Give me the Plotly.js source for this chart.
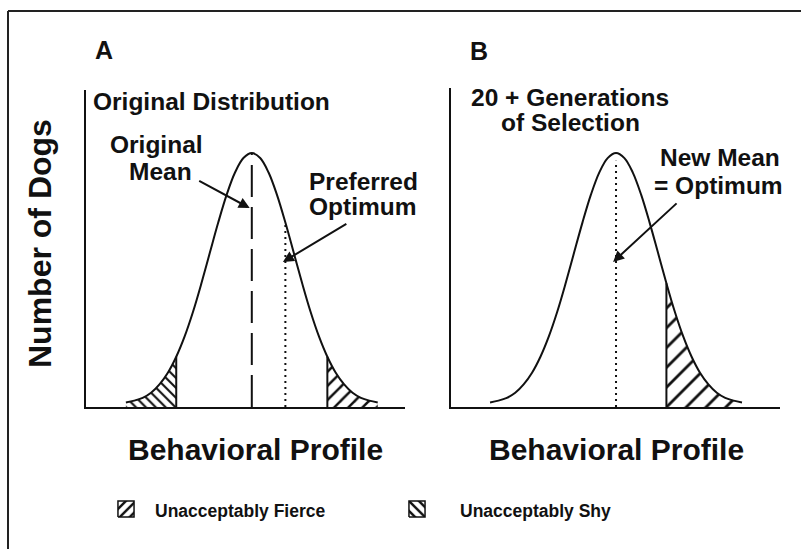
<!DOCTYPE html>
<html>
<head>
<meta charset="utf-8">
<script src="https://cdn.plot.ly/plotly-3.0.1.min.js"></script>
<style>
  html, body { margin: 0; padding: 0; background: #fff; }
  #chart { width: 801px; height: 549px; }
</style>
</head>
<body>
<div id="chart"></div>
<script>
// ---- data ----
// behavioral profile, in standard-deviation units from the original mean
const profile = [-3.0, -2.8, -2.6, -2.4, -2.2, -2.0, -1.8, -1.6, -1.4, -1.2, -1.0, -0.8, -0.6, -0.4, -0.2, 0.0,
                 0.2, 0.4, 0.6, 0.8, 1.0, 1.2, 1.4, 1.6, 1.8, 2.0, 2.2, 2.4, 2.6, 2.8, 3.0];
// number of dogs (relative, peak = 100)
const dogsA = [1.8, 2.5, 3.6, 5.6, 8.9, 13.5, 19.8, 27.8, 37.5, 48.7, 60.7, 72.6, 83.5, 92.3, 98.0, 100,
               98.0, 92.3, 83.5, 72.6, 60.7, 48.7, 37.5, 27.8, 19.8, 13.5, 8.9, 5.6, 3.6, 2.5, 1.8];
const dogsB = [1.8, 2.5, 3.6, 5.6, 8.9, 13.5, 19.8, 27.8, 37.5, 48.7, 60.7, 72.6, 83.5, 92.3, 98.0, 100,
               98.0, 92.3, 83.5, 72.6, 60.7, 48.7, 37.5, 27.8, 19.8, 13.5, 8.9, 5.6, 3.6, 2.5, 1.8];

const shyCutA = -1.8;      // left tail of panel A: unacceptably shy
const fierceCutA = 1.8;    // right tail of panel A: unacceptably fierce
const fierceCutB = 1.2;    // right tail of panel B: unacceptably fierce
const meanA = 0.0;
const optimumA = 0.8;
const optimumTopA = 72;
const meanB = 0.0;
const meanTopB = 97;

const legendLabels = ['Unacceptably Fierce', 'Unacceptably Shy'];
const swatchX = [0, 1, 1, 0, 0];
const swatchY = [0, 0, 1, 1, 0];

// ---- helpers ----
function valueAt(xs, ys, x) {
  const i = xs.findIndex(v => Math.abs(v - x) < 1e-9);
  return ys[i];
}
function tail(xs, ys, cut, side) {
  const ox = [], oy = [];
  xs.forEach((v, i) => {
    if ((side === 'left' && v <= cut + 1e-9) || (side === 'right' && v >= cut - 1e-9)) {
      ox.push(v); oy.push(ys[i]);
    }
  });
  return {x: ox, y: oy};
}

const FONT = 'Liberation Sans, Arial, Helvetica, sans-serif';
const BLACK = '#111';

const tShyA = tail(profile, dogsA, shyCutA, 'left');
const tFierceA = tail(profile, dogsA, fierceCutA, 'right');
const tFierceB = tail(profile, dogsB, fierceCutB, 'right');

function hatchTrace(t, xa, ya, shape, size, sol) {
  return {
    x: t.x, y: t.y, xaxis: xa, yaxis: ya, type: 'scatter', mode: 'lines',
    line: {width: 0, shape: 'spline', smoothing: 1},
    fill: 'tozeroy', fillcolor: 'rgba(255,255,255,0)',
    fillpattern: {shape: shape, size: size, solidity: sol, fgcolor: BLACK, bgcolor: 'rgba(255,255,255,0)'},
    hoverinfo: 'skip', showlegend: false
  };
}
function vline(x, top, xa, ya, dash) {
  return {
    x: [x, x], y: [0, top], xaxis: xa, yaxis: ya, type: 'scatter', mode: 'lines',
    line: {color: BLACK, width: 2, dash: dash},
    hoverinfo: 'skip', showlegend: false
  };
}

const traces = [
  hatchTrace(tShyA, 'x', 'y', '\\', 7, 0.3),
  hatchTrace(tFierceA, 'x', 'y', '/', 10, 0.25),
  hatchTrace(tFierceB, 'x2', 'y2', '/', 14, 0.2),
  {x: profile, y: dogsA, xaxis: 'x', yaxis: 'y', type: 'scatter', mode: 'lines',
   line: {color: BLACK, width: 2, shape: 'spline', smoothing: 1}, hoverinfo: 'skip', showlegend: false},
  {x: profile, y: dogsB, xaxis: 'x2', yaxis: 'y2', type: 'scatter', mode: 'lines',
   line: {color: BLACK, width: 2, shape: 'spline', smoothing: 1}, hoverinfo: 'skip', showlegend: false},
  vline(shyCutA, valueAt(profile, dogsA, shyCutA), 'x', 'y', 'solid'),
  vline(fierceCutA, valueAt(profile, dogsA, fierceCutA), 'x', 'y', 'solid'),
  vline(fierceCutB, valueAt(profile, dogsB, fierceCutB), 'x2', 'y2', 'solid'),
  vline(meanA, valueAt(profile, dogsA, meanA), 'x', 'y', '32px,10px'),
  vline(optimumA, optimumTopA, 'x', 'y', '2px,4px'),
  vline(meanB, meanTopB, 'x2', 'y2', '2px,4px'),
  // legend swatches
  {x: swatchX, y: swatchY, xaxis: 'x3', yaxis: 'y3', type: 'scatter', mode: 'lines',
   line: {color: BLACK, width: 1.5}, fill: 'toself', fillcolor: 'rgba(255,255,255,0)',
   fillpattern: {shape: '/', size: 7, solidity: 0.35, fgcolor: BLACK, bgcolor: 'rgba(255,255,255,0)'},
   hoverinfo: 'skip', showlegend: false},
  {x: swatchX, y: swatchY, xaxis: 'x4', yaxis: 'y4', type: 'scatter', mode: 'lines',
   line: {color: BLACK, width: 1.5}, fill: 'toself', fillcolor: 'rgba(255,255,255,0)',
   fillpattern: {shape: '\\', size: 7, solidity: 0.35, fgcolor: BLACK, bgcolor: 'rgba(255,255,255,0)'},
   hoverinfo: 'skip', showlegend: false}
];

const W = 801, H = 549;
const px = v => v / W;
const py = v => 1 - v / H;

const baseAxis = {showgrid: false, zeroline: false, showticklabels: false, ticks: '', fixedrange: true};
const lineAxis = Object.assign({}, baseAxis, {showline: true, linecolor: BLACK, linewidth: 2});
const hidden = Object.assign({}, baseAxis, {showline: false, visible: false});

function txt(text, x, y, size, xanchor, extra) {
  return Object.assign({
    text: text, x: px(x), y: py(y), xref: 'paper', yref: 'paper',
    xanchor: xanchor || 'center', yanchor: 'middle', showarrow: false,
    font: {family: FONT, size: size, color: BLACK, weight: 'bold'}
  }, extra || {});
}
function arrow(x, y, xref, yref, ax, ay) {
  return {
    text: '', x: x, y: y, xref: xref, yref: yref, ax: ax, ay: ay,
    showarrow: true, arrowhead: 2, arrowsize: 1.1, arrowwidth: 2, arrowcolor: BLACK,
    standoff: 0, startstandoff: 0
  };
}

const layout = {
  width: W, height: H,
  margin: {l: 0, r: 0, t: 0, b: 0, pad: 0},
  paper_bgcolor: '#fff', plot_bgcolor: 'rgba(0,0,0,0)',
  showlegend: false,
  xaxis: Object.assign({}, lineAxis, {domain: [px(86), px(405)], range: [-3.95, 3.65], anchor: 'y'}),
  yaxis: Object.assign({}, lineAxis, {domain: [py(407), py(90)], range: [0, 124.8], anchor: 'x'}),
  xaxis2: Object.assign({}, lineAxis, {domain: [px(451), px(780)], range: [-3.93, 3.905], anchor: 'y2'}),
  yaxis2: Object.assign({}, lineAxis, {domain: [py(407), py(88)], range: [0, 125.6], anchor: 'x2'}),
  xaxis3: Object.assign({}, hidden, {domain: [px(117), px(135)], range: [-0.06, 1.06], anchor: 'y3'}),
  yaxis3: Object.assign({}, hidden, {domain: [py(518), py(500)], range: [-0.06, 1.06], anchor: 'x3'}),
  xaxis4: Object.assign({}, hidden, {domain: [px(408), px(426)], range: [-0.06, 1.06], anchor: 'y4'}),
  yaxis4: Object.assign({}, hidden, {domain: [py(518), py(500)], range: [-0.06, 1.06], anchor: 'x4'}),
  shapes: [
    {type: 'line', xref: 'paper', yref: 'paper', x0: px(8), x1: 1, y0: py(11), y1: py(11), line: {color: '#222', width: 2}},
    {type: 'line', xref: 'paper', yref: 'paper', x0: px(8), x1: px(8), y0: py(11), y1: 0, line: {color: '#222', width: 2}}
  ],
  annotations: [
    txt('A', 104, 50, 25),
    txt('B', 479, 51, 25),
    txt('Original Distribution', 91, 102, 24.5, 'left'),
    txt('Original', 156, 144, 24.5),
    txt('Mean', 160, 171, 24.5),
    txt('Preferred', 307, 181, 24.5, 'left'),
    txt('Optimum', 307, 206, 24.5, 'left'),
    txt('20 + Generations', 570, 97, 24.5),
    txt('of Selection', 570, 122, 24.5),
    txt('New Mean', 658, 158, 24.5, 'left'),
    txt('= Optimum', 652, 185, 24.5, 'left'),
    txt('Number of Dogs', 40, 244, 32, 'center', {textangle: -90}),
    txt('Behavioral Profile', 255, 449, 30),
    txt('Behavioral Profile', 616, 449, 30),
    txt(legendLabels[0], 153, 511, 17.5, 'left'),
    txt(legendLabels[1], 458, 511, 17.5, 'left'),
    arrow(-0.05, 78.3, 'x', 'y', -52, -28),
    arrow(0.74, 57.1, 'x', 'y', 65, -39),
    arrow(-0.07, 57.1, 'x2', 'y2', 65, -60)
  ]
};

Plotly.newPlot('chart', traces, layout, {staticPlot: true, displayModeBar: false});
</script>
</body>
</html>
